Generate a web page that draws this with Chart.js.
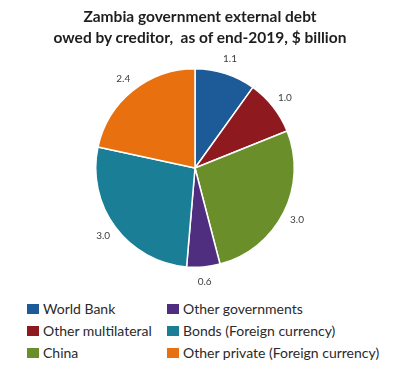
<!DOCTYPE html>
<html>
<head>
<meta charset="utf-8">
<script src="https://cdn.jsdelivr.net/npm/chart.js@4/dist/chart.umd.min.js"></script>
<style>
  html, body { margin: 0; padding: 0; background: #ffffff; }
  #wrap { position: relative; width: 400px; height: 380px; overflow: hidden; background: #fff; }
  #c { position: absolute; left: 0; top: 0; }
  #title { position: absolute; left: 0; top: 6px; width: 400px; text-align: center; font-family: Lato, "Open Sans", sans-serif; font-weight: bold; font-size: 15.5px; line-height: 21px; color: #1e1e1e; white-space: pre; }
  #legend { position: absolute; left: 27px; top: 298px; font-family: Lato, "Open Sans", sans-serif; font-size: 14px; color: #2a2a2a; }
  .item { position: absolute; white-space: nowrap; height: 22px; line-height: 22px; }
  .sw { display: inline-block; width: 12px; height: 10px; vertical-align: middle; margin-right: 4px; position: relative; top: -1px; }
</style>
</head>
<body>
<div id="wrap">
  <canvas id="c" width="400" height="290"></canvas>
  <div id="title"></div>
  <div id="legend"></div>
</div>
<script>
const titleLines = ["Zambia government external debt", "owed by creditor,  as of end-2019, $ billion"];
const categories = ["World Bank", "Other multilateral", "China", "Other governments", "Bonds (Foreign currency)", "Other private (Foreign currency)"];
const debtValues = [1.1, 1.0, 3.0, 0.6, 3.0, 2.4];
const sliceColors = ["#1d5a98", "#8e1a1f", "#6a8e2a", "#4f2d7f", "#1b7e97", "#e8700f"];
const legendColumns = [[0, 1, 2], [3, 4, 5]];

document.getElementById('title').textContent = titleLines.join('\n');

const outsideLabels = {
  id: 'outsideLabels',
  afterDatasetsDraw(chart) {
    const ctx = chart.ctx;
    const meta = chart.getDatasetMeta(0);
    ctx.save();
    ctx.font = '10px Lato, "Open Sans", sans-serif';
    ctx.fillStyle = '#404040';
    ctx.textAlign = 'center';
    ctx.textBaseline = 'middle';
    meta.data.forEach((arc, i) => {
      const p = arc.getProps(['x', 'y', 'startAngle', 'endAngle', 'outerRadius'], true);
      const mid = (p.startAngle + p.endAngle) / 2;
      const r = p.outerRadius + 15;
      ctx.fillText(debtValues[i].toFixed(1), p.x + Math.cos(mid) * r, p.y + Math.sin(mid) * r);
    });
    ctx.restore();
  }
};

new Chart(document.getElementById('c'), {
  type: 'pie',
  data: {
    labels: categories,
    datasets: [{
      data: debtValues,
      backgroundColor: sliceColors,
      borderColor: '#ffffff',
      borderWidth: 1.5
    }]
  },
  options: {
    responsive: false,
    animation: false,
    layout: { padding: { left: 95, right: 105, top: 68, bottom: 22 } },
    plugins: {
      legend: { display: false },
      tooltip: { enabled: false },
      title: { display: false }
    }
  },
  plugins: [outsideLabels]
});

const legend = document.getElementById('legend');
legendColumns.forEach((col, ci) => {
  col.forEach((idx, ri) => {
    const d = document.createElement('div');
    d.className = 'item';
    d.style.left = (ci * 140) + 'px';
    d.style.top = (ri * 22) + 'px';
    const sw = document.createElement('span');
    sw.className = 'sw';
    sw.style.background = sliceColors[idx];
    d.appendChild(sw);
    d.appendChild(document.createTextNode(categories[idx]));
    legend.appendChild(d);
  });
});
</script>
</body>
</html>
